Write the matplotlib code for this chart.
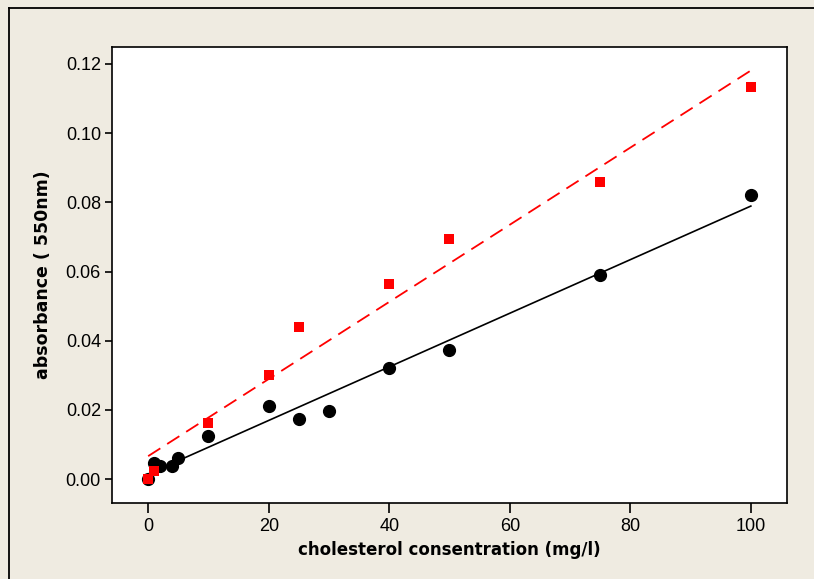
import matplotlib
matplotlib.use("Agg")
import matplotlib.pyplot as plt
from matplotlib.lines import Line2D
import numpy as np

# data
black_x = [0, 1, 2, 4, 5, 10, 20, 25, 30, 40, 50, 75, 100]
black_y = [0.0, 0.0048, 0.0038, 0.0038, 0.0060, 0.0124, 0.0211, 0.0173, 0.0198, 0.0321, 0.0373, 0.0590, 0.0821]
red_x = [0, 1, 10, 20, 25, 40, 50, 75, 100]
red_y = [0.0, 0.0023, 0.0161, 0.0301, 0.0440, 0.0564, 0.0694, 0.0859, 0.1134]
xticks = [0, 20, 40, 60, 80, 100]
yticks = [0.00, 0.02, 0.04, 0.06, 0.08, 0.10, 0.12]
xlabel = "cholesterol consentration (mg/l)"
ylabel = "absorbance ( 550nm)"

W, H = 814, 579
bg = "#EFEBE1"
fig = plt.figure(figsize=(W / 100, H / 100), dpi=100, facecolor=bg)
ax = fig.add_axes([112 / W, 1 - 503 / H, (787 - 112) / W, (503 - 47) / H])
ax.set_facecolor("white")

# figure border (only left and top visible)
xl = 8.5 / W
yt = 1 - 7.5 / H
fig.lines.append(Line2D([xl, xl], [-0.05, yt], transform=fig.transFigure,
                        color="black", lw=1.3, solid_capstyle="projecting"))
fig.lines.append(Line2D([xl, 1.05], [yt, yt], transform=fig.transFigure,
                        color="black", lw=1.3, solid_capstyle="projecting"))

# fitted lines
bx = np.array(black_x); by = np.array(black_y)
rx = np.array(red_x); ry = np.array(red_y)
bp = np.polyfit(bx, by, 1)
rp = np.polyfit(rx, ry, 1)
xs = np.array([0, 100])
ax.plot(xs, np.polyval(bp, xs), color="black", lw=1.2, zorder=2)
ax.plot(xs, np.polyval(rp, xs), color="red", lw=1.3, ls=(0, (8, 4.5)), zorder=2)

ax.plot(bx, by, "o", color="black", ms=8.5, zorder=3)
ax.plot(rx, ry, "s", color="red", ms=7, mew=0, zorder=4)

ax.set_xlim(-6, 106)
ax.set_ylim(-0.0069, 0.1249)
ax.set_xticks(xticks)
ax.set_xticklabels([str(v) for v in xticks])
ax.set_yticks(yticks)
ax.set_yticklabels([f"{v:.2f}" for v in yticks])

for s in ax.spines.values():
    s.set_linewidth(1.2)
ax.tick_params(axis="both", direction="out", width=1.2, colors="black",
               labelsize=13)
ax.tick_params(axis="x", length=7, pad=4)
ax.tick_params(axis="y", length=5, pad=3)
for lab in ax.get_xticklabels() + ax.get_yticklabels():
    lab.set_family("Liberation Sans")

ax.set_xlabel(xlabel, fontsize=12, fontweight="bold", family="DejaVu Sans", labelpad=4)
ax.set_ylabel(ylabel, fontsize=12.5, fontweight="bold", family="DejaVu Sans", labelpad=10)

fig.savefig("out.png", dpi=100, facecolor=bg)
